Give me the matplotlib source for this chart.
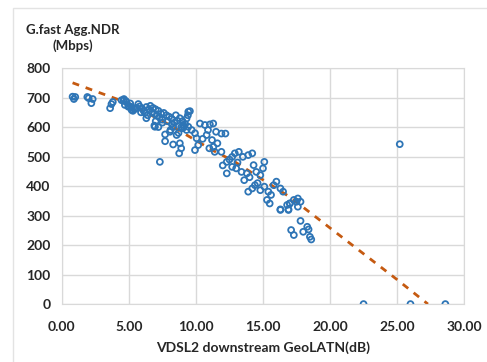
import matplotlib
matplotlib.use("Agg")
import matplotlib.pyplot as plt
from matplotlib.patches import Rectangle

# scatter: VDSL2 downstream GeoLATN (dB) vs G.fast aggregate NDR (Mbps)
latn = [
    0.8, 0.9, 1.0, 1.9, 2.0, 2.2, 2.3, 3.6, 3.7, 3.8,
    4.45, 4.6, 4.63, 4.78, 4.8, 4.7, 4.95, 5.0, 5.1, 5.2, 5.2, 5.3, 5.4, 5.45, 5.6,
    5.8, 5.9, 6.0, 6.1, 6.2, 6.3, 6.4, 6.5, 6.6, 6.8,
    6.7, 6.9, 6.94, 7.0, 7.0, 7.1, 7.2, 7.2, 7.3, 7.4, 7.5, 6.9, 7.31,
    7.6, 7.7, 7.7, 7.8, 7.9, 8.0, 8.06, 8.1, 8.2, 8.3, 8.3, 8.4, 8.5, 8.56, 8.6,
    8.7, 8.75, 8.8, 8.8, 8.9, 9.0, 9.0, 9.05, 9.1, 9.2, 9.3, 9.3, 9.4, 9.43, 9.43, 9.55,
    9.68, 9.93, 9.93, 10.05, 10.17, 10.3, 10.67, 10.8, 11.0, 11.04, 11.2, 11.29, 11.3,
    11.4, 11.5, 11.9, 11.9, 12.2, 12.3, 12.3, 12.7, 12.7, 12.9, 13.0, 13.2, 13.4,
    13.5, 13.8, 13.9, 13.9, 14.2, 14.2, 14.3, 14.4, 14.5, 14.8, 14.8, 15.0, 15.1,
    15.1, 15.3, 15.4, 15.5, 15.8, 16.0, 16.3, 16.3, 16.3, 16.5, 16.8, 16.9, 16.9,
    17.0, 17.0, 17.1, 17.3, 17.3, 17.5, 17.6, 17.6, 17.8, 17.8, 18.0, 18.3, 18.4,
    18.5, 18.6, 12.0, 12.5, 13.1, 13.6, 14.0, 14.6, 15.6, 10.5, 10.9, 11.6, 8.9,
    6.3, 7.5, 5.7, 8.2, 22.5, 25.2, 26.0, 28.6,
]
ndr = [
    703, 695, 702, 702, 698, 681, 695, 664, 678, 685,
    691, 690, 695, 688, 685, 675, 669, 672, 680, 658, 668, 655, 660, 663, 665,
    670, 650, 662, 655, 648, 668, 640, 660, 672, 665,
    650, 645, 601, 660, 620, 638, 655, 600, 632, 645, 625, 605, 482,
    648, 552, 575, 640, 620, 635, 584, 590, 628, 600, 541, 615, 640, 573, 622,
    580, 511, 545, 630, 528, 596, 620, 607, 600, 610, 629, 590, 640, 652, 601, 654,
    590, 579, 522, 562, 539, 612, 607, 573, 528, 609, 556, 612, 533,
    516, 584, 578, 516, 578, 482, 443, 499, 465, 511, 460, 516, 448,
    499, 443, 505, 381, 511, 392, 471, 403, 448, 386, 437, 460, 482,
    398, 353, 381, 341, 403, 415, 392, 319, 321, 381, 336, 319, 321,
    341, 341, 251, 353, 234, 347, 358, 330, 282, 347, 245, 262, 253,
    228, 219, 470, 490, 480, 420, 430, 410, 370, 560, 590, 545, 600,
    630, 615, 678, 610, 0, 542, 0, 0,
]

# dashed trend line
trend_x = [0.8, 5.0, 7.8, 11.3, 12.8, 17.0, 20.2, 25.0, 27.3]
trend_y = [750, 680, 613, 520, 485, 363, 251, 83, 0]

blue = "#2E75B6"
grid_c = "#D9D9D9"
txt_c = "#262626"
font = ["Lato", "DejaVu Sans"]

fig = plt.figure(figsize=(4.87, 3.62), dpi=100)
ax = fig.add_axes([0.127, 0.160, 0.826, 0.652])

ax.plot(trend_x, trend_y, color="#C55A11", linestyle=(0, (2.5, 2.5)),
        linewidth=2, zorder=2)
ax.scatter(latn, ndr, s=18, facecolors="none", edgecolors=blue,
           linewidths=1.3, zorder=3)

ax.set_xlim(0, 30)
ax.set_ylim(0, 800)
ax.set_xticks(range(0, 31, 5))
ax.set_xticklabels(["%.2f" % v for v in range(0, 31, 5)])
ax.set_yticks(range(0, 801, 100))
ax.grid(True, color=grid_c, linewidth=1)
ax.set_axisbelow(True)
for s in ax.spines.values():
    s.set_color(grid_c)
ax.tick_params(length=0, colors=txt_c, labelsize=10)
ax.tick_params(axis="x", pad=12)
ax.tick_params(axis="y", pad=8)
for lab in ax.get_xticklabels() + ax.get_yticklabels():
    lab.set_fontweight("bold")
    lab.set_family(font)

fig.text(0.15, 0.895, "G.fast Agg.NDR\n(Mbps)", ha="center", va="center",
         fontsize=9.5, fontweight="bold", color=txt_c, family=font,
         linespacing=1.3)
ax.set_xlabel("VDSL2 downstream GeoLATN(dB)", fontsize=10, fontweight="bold",
              color=txt_c, family=font, labelpad=6)

# outer chart border
fig.add_artist(Rectangle((13 / 487, -0.05), 1.0, 1.05 - 8 / 362,
                         transform=fig.transFigure, fill=False,
                         edgecolor="#E3E3E3", linewidth=1))

fig.savefig("out.png", dpi=100)
